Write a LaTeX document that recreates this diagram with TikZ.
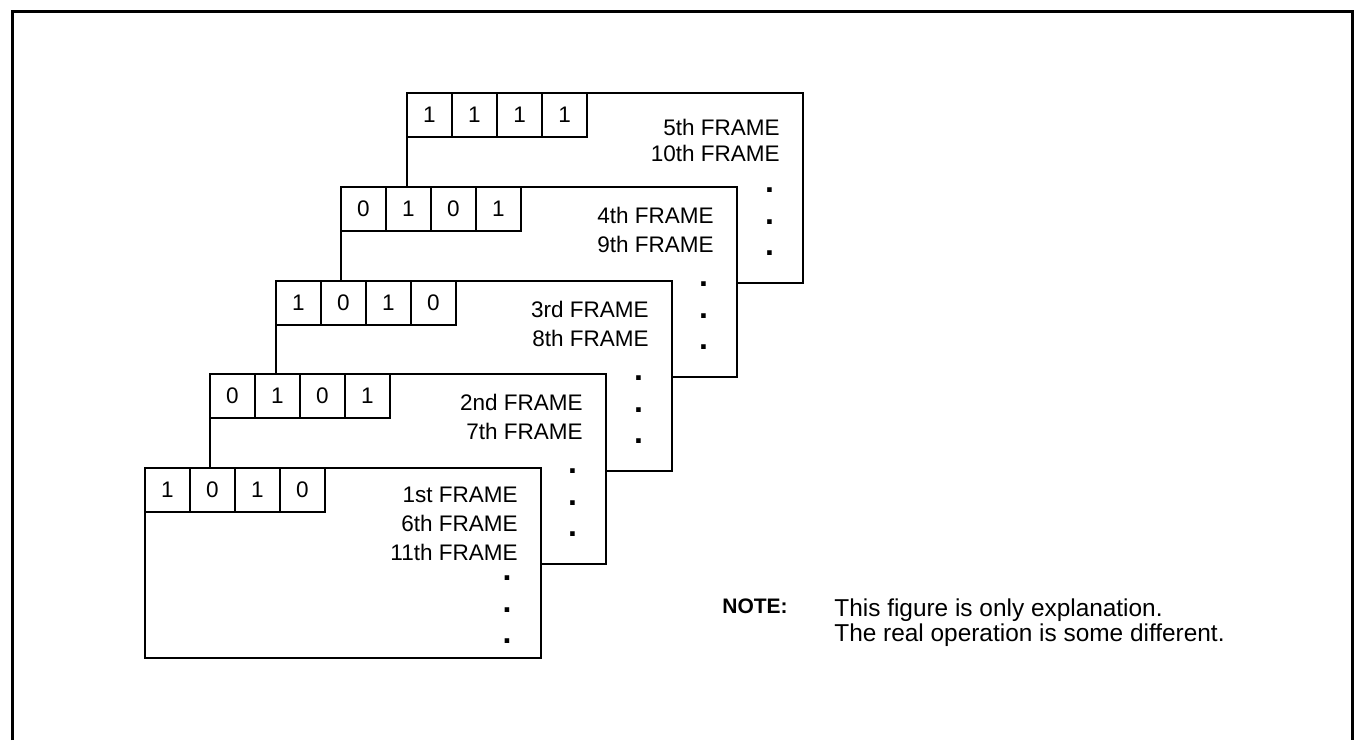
\documentclass[tikz,border=0pt]{standalone}
\usepackage{fontspec}
\setmainfont{Liberation Sans}
\usetikzlibrary{positioning}
\tikzset{
  frbox/.style={draw, line width=.8pt, fill=white, anchor=north west, minimum width=198pt, minimum height=95pt, inner sep=0pt, outer sep=0pt},
  frcell/.style={draw, line width=.8pt, fill=white, minimum width=22.5pt, minimum height=22pt, inner sep=0pt, outer sep=0pt, font=\fontsize{11.25}{13}\selectfont},
  frlabel/.style={anchor=north east, align=right, inner sep=0pt, font=\fontsize{11.25}{14.5}\selectfont},
  frdots/.style={anchor=center, align=center, inner sep=0pt, font=\fontsize{16}{15.75}\selectfont\bfseries},
  frnote/.style={anchor=north west, align=left, inner sep=0pt, font=\fontsize{12.2}{12.5}\selectfont}
}
\begin{document}
\begin{tikzpicture}[x=.5pt, y=-.5pt]
  \useasboundingbox (0,0) rectangle (1354,740);
  \draw[line width=1.5pt] (12.5,740) -- (12.5,11) -- (1352,11) -- (1352,740);

  % 5th frame (back)
  \node[frbox] (f5) at (407,93) {};
  \node[frcell, anchor=north west] (f5a) at (f5.north west) {1};
  \node[frcell, right=0pt of f5a] (f5b) {1};
  \node[frcell, right=0pt of f5b] (f5c) {1};
  \node[frcell, right=0pt of f5c] (f5d) {1};
  \node[frlabel, font=\fontsize{11.25}{12.75}\selectfont] (f5lab) at ([xshift=-11.5pt, yshift=-13pt]f5.north east) {5th FRAME\\10th FRAME};
  \node[frdots] (f5dots) at ([xshift=-16.75pt, yshift=-64.5pt]f5.north east) {.\\.\\.};

  % 4th frame
  \node[frbox] (f4) at (341,187) {};
  \node[frcell, anchor=north west] (f4a) at (f4.north west) {0};
  \node[frcell, right=0pt of f4a] (f4b) {1};
  \node[frcell, right=0pt of f4b] (f4c) {0};
  \node[frcell, right=0pt of f4c] (f4d) {1};
  \node[frlabel] (f4lab) at ([xshift=-11.5pt, yshift=-10pt]f4.north east) {4th FRAME\\9th FRAME};
  \node[frdots] (f4dots) at ([xshift=-16.75pt, yshift=-64.5pt]f4.north east) {.\\.\\.};

  % 3rd frame
  \node[frbox] (f3) at (276,281) {};
  \node[frcell, anchor=north west] (f3a) at (f3.north west) {1};
  \node[frcell, right=0pt of f3a] (f3b) {0};
  \node[frcell, right=0pt of f3b] (f3c) {1};
  \node[frcell, right=0pt of f3c] (f3d) {0};
  \node[frlabel] (f3lab) at ([xshift=-11.5pt, yshift=-10pt]f3.north east) {3rd FRAME\\8th FRAME};
  \node[frdots] (f3dots) at ([xshift=-16.75pt, yshift=-64.5pt]f3.north east) {.\\.\\.};

  % 2nd frame
  \node[frbox] (f2) at (210,374) {};
  \node[frcell, anchor=north west] (f2a) at (f2.north west) {0};
  \node[frcell, right=0pt of f2a] (f2b) {1};
  \node[frcell, right=0pt of f2b] (f2c) {0};
  \node[frcell, right=0pt of f2c] (f2d) {1};
  \node[frlabel] (f2lab) at ([xshift=-11.5pt, yshift=-10pt]f2.north east) {2nd FRAME\\7th FRAME};
  \node[frdots] (f2dots) at ([xshift=-16.75pt, yshift=-64.5pt]f2.north east) {.\\.\\.};

  % 1st frame (front)
  \node[frbox] (f1) at (145,468) {};
  \node[frcell, anchor=north west] (f1a) at (f1.north west) {1};
  \node[frcell, right=0pt of f1a] (f1b) {0};
  \node[frcell, right=0pt of f1b] (f1c) {1};
  \node[frcell, right=0pt of f1c] (f1d) {0};
  \node[frlabel] (f1lab) at ([xshift=-11.5pt, yshift=-9.5pt]f1.north east) {1st FRAME\\6th FRAME\\11th FRAME};
  \node[frdots] (f1dots) at ([xshift=-17pt, yshift=-71pt]f1.north east) {.\\.\\.};

  % note
  \node[frnote, font=\fontsize{10.5}{12.5}\selectfont\bfseries] (note) at (722,598) {NOTE:};
  \node[frnote] (notetext) at (834,598) {This figure is only explanation.\\The real operation is some different.};
\end{tikzpicture}
\end{document}
